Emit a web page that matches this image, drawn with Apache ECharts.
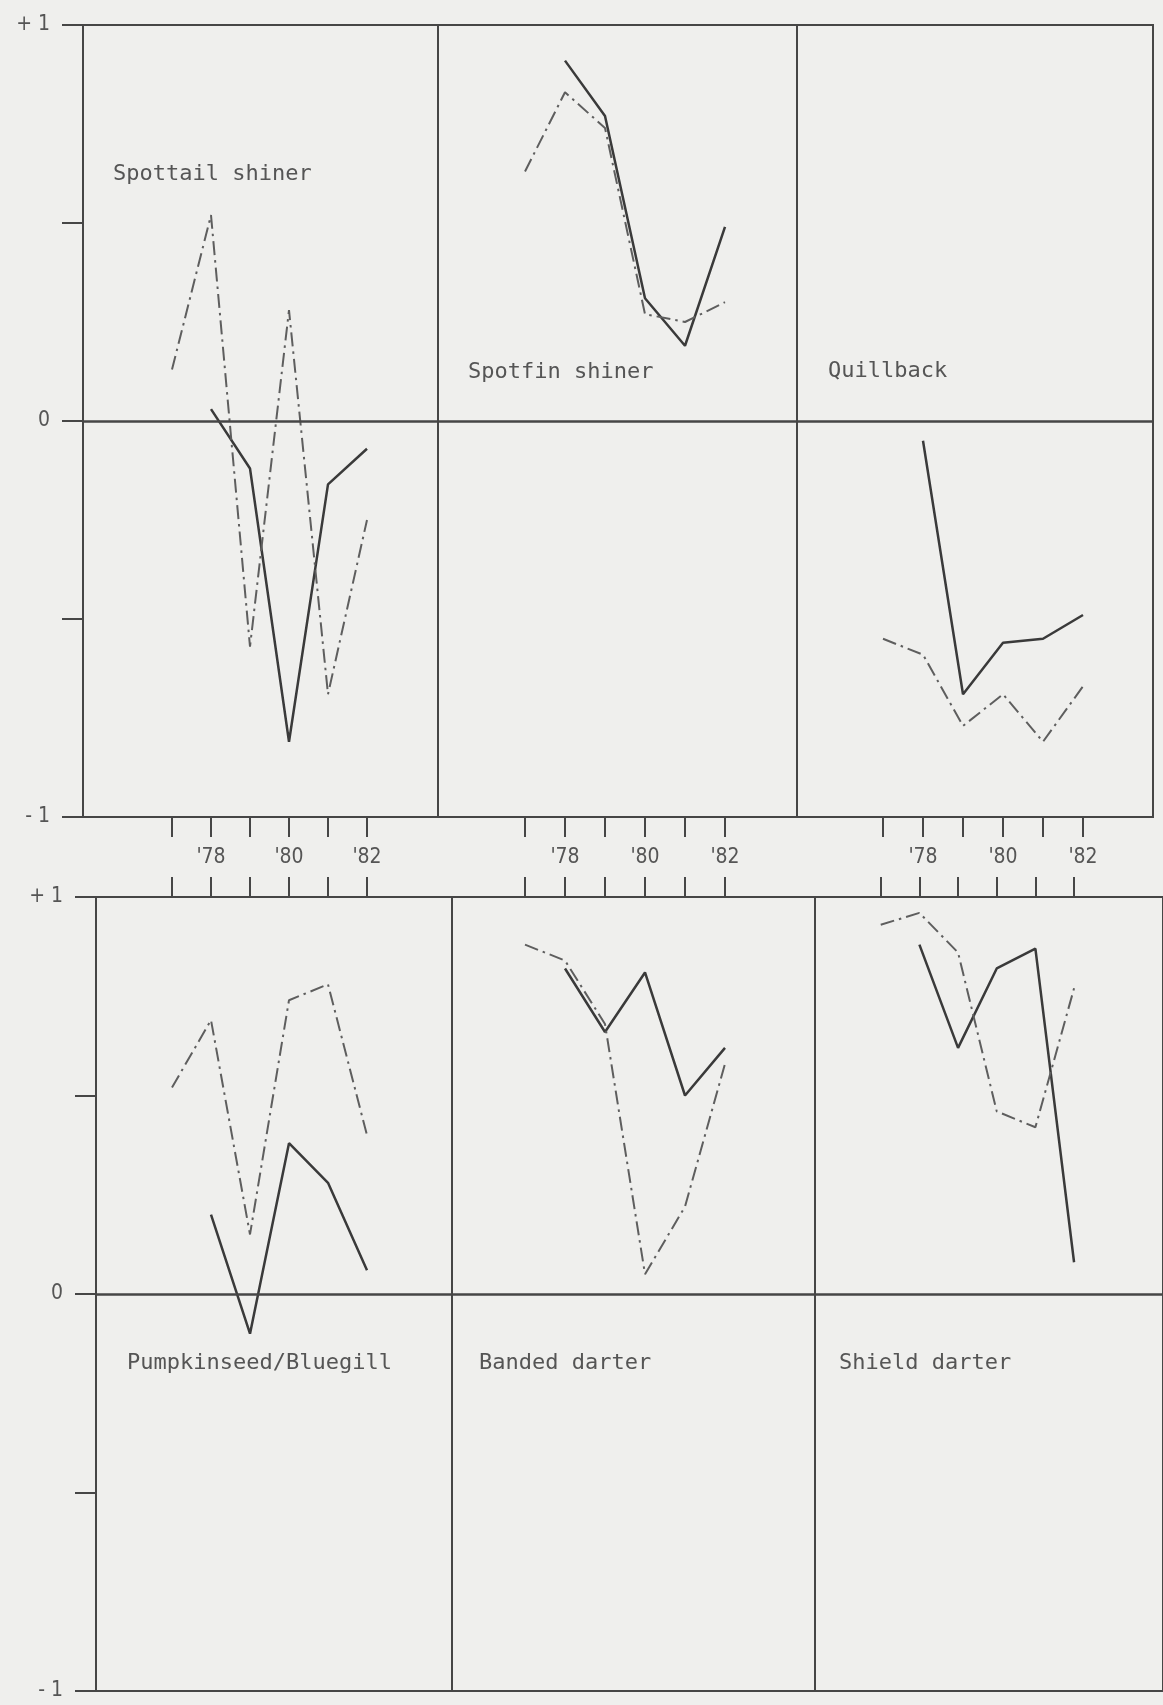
<!DOCTYPE html>
<html>
<head>
<meta charset="utf-8">
<script src="https://cdn.jsdelivr.net/npm/echarts@6/dist/echarts.min.js"></script>
<style>
html, body { margin: 0; padding: 0; background: #efefed; }
#chart { width: 1163px; height: 1705px; }
</style>
</head>
<body>
<div id="chart"></div>
<script>
const years = [77, 78, 79, 80, 81, 82];
const yearLabels = [78, 80, 82];

const panelNames = ['Spottail shiner', 'Spotfin shiner', 'Quillback',
  'Pumpkinseed/Bluegill', 'Banded darter', 'Shield darter'];

// solid line values per year, null = no value
const spottailSolid = [null, 0.03, -0.12, -0.81, -0.16, -0.07];
const spottailDash  = [0.13, 0.52, -0.57, 0.28, -0.69, -0.25];
const spotfinSolid  = [null, 0.91, 0.77, 0.31, 0.19, 0.49];
const spotfinDash   = [0.63, 0.83, 0.74, 0.27, 0.25, 0.30];
const quillSolid    = [null, -0.05, -0.69, -0.56, -0.55, -0.49];
const quillDash     = [-0.55, -0.59, -0.77, -0.69, -0.81, -0.67];
const pumpSolid     = [null, 0.20, -0.10, 0.38, 0.28, 0.06];
const pumpDash      = [0.52, 0.69, 0.15, 0.74, 0.78, 0.40];
const bandedSolid   = [null, 0.82, 0.66, 0.81, 0.50, 0.62];
const bandedDash    = [0.88, 0.84, 0.68, 0.05, 0.22, 0.58];
const shieldSolid   = [null, 0.88, 0.62, 0.82, 0.87, 0.08];
const shieldDash    = [0.93, 0.96, 0.86, 0.46, 0.42, 0.77];

const solids = [spottailSolid, spotfinSolid, quillSolid, pumpSolid, bandedSolid, shieldSolid];
const dashes = [spottailDash, spotfinDash, quillDash, pumpDash, bandedDash, shieldDash];

// layout (pixels)
const rowBox = [{top: 25, height: 792}, {top: 897, height: 794}];
const colBox = [
  [{left: 83, width: 355}, {left: 438, width: 359}, {left: 797, width: 356}],
  [{left: 96, width: 356}, {left: 452, width: 363}, {left: 815, width: 360}]
];
const x77 = [172, 525, 883];   // where '77 sits in each column
const yearStep = [39, 40, 40];
const namePos = [[113, 161], [468, 359], [828, 358], [127, 1350], [479, 1350], [839, 1350]];

const ink = '#464646';
const numFont = "'Liberation Sans Narrow', 'DejaVu Sans Condensed', sans-serif";

const pairs = arr => years.map((y, i) => [y, arr[i]]).filter(p => p[1] !== null);

const grid = [], xAxis = [], yAxis = [], series = [], title = [];

for (let p = 0; p < 6; p++) {
  const r = Math.floor(p / 3), c = p % 3;
  const box = colBox[r][c];
  grid.push({left: box.left, top: rowBox[r].top, width: box.width, height: rowBox[r].height,
    show: true, borderColor: ink, borderWidth: 2, backgroundColor: 'transparent'});

  const xmin = 77 - (x77[c] - box.left) / yearStep[c];
  xAxis.push({
    type: 'value', gridIndex: p, min: xmin, max: xmin + box.width / yearStep[c],
    position: r === 0 ? 'bottom' : 'top',
    axisLine: {show: false, onZero: false},
    splitLine: {show: false},
    axisTick: {show: true, customValues: years, length: 20, inside: false,
      lineStyle: {color: ink, width: 2}},
    axisLabel: {show: r === 0, customValues: yearLabels, margin: 30,
      formatter: v => "'" + v, fontFamily: numFont, fontSize: 21, color: '#555'}
  });

  yAxis.push({
    type: 'value', gridIndex: p, min: -1, max: 1, interval: 0.5,
    show: c === 0,
    axisLine: {show: false, onZero: false},
    splitLine: {show: false},
    axisTick: {show: true, length: 21, lineStyle: {color: ink, width: 2}},
    axisLabel: {margin: 33, fontFamily: numFont, fontSize: 21, color: '#555',
      formatter: v => v === 1 ? '+ 1' : v === -1 ? '- 1' : v === 0 ? '0' : ''}
  });

  series.push({
    type: 'line', xAxisIndex: p, yAxisIndex: p, data: pairs(solids[p]),
    symbol: 'none', lineStyle: {color: '#3a3a3a', width: 2.5, type: 'solid'},
    markLine: {silent: true, symbol: 'none', label: {show: false},
      lineStyle: {color: ink, width: 2.5, type: 'solid'}, data: [{yAxis: 0}]}
  });
  series.push({
    type: 'line', xAxisIndex: p, yAxisIndex: p, data: pairs(dashes[p]),
    symbol: 'none', lineStyle: {color: '#5e5e5e', width: 2, type: [14, 5, 2.5, 5]}
  });

  title.push({text: panelNames[p], left: namePos[p][0], top: namePos[p][1], padding: 0,
    textStyle: {fontFamily: "'DejaVu Sans Mono', monospace", fontSize: 22, fontWeight: 'normal',
      color: '#555', lineHeight: 26}});
}

const chart = echarts.init(document.getElementById('chart'));
chart.setOption({animation: false, backgroundColor: '#efefed', title, grid, xAxis, yAxis, series});
</script>
</body>
</html>
